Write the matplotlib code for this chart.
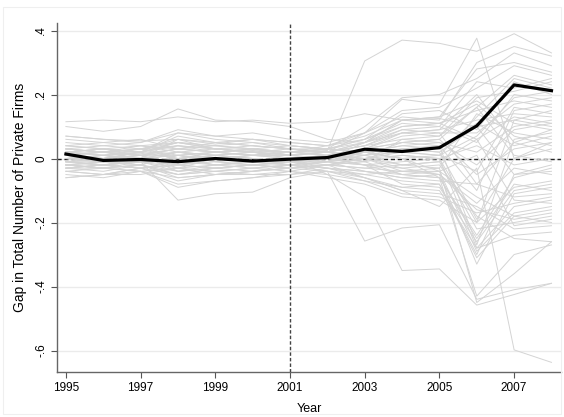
import numpy as np
import matplotlib
matplotlib.use("Agg")
import matplotlib.pyplot as plt
from matplotlib.patches import Rectangle

plt.rcParams['font.family'] = ['Liberation Sans', 'DejaVu Sans']

years = list(range(1995, 2009))

# gap for the treated unit
treated_gap = [0.014, -0.006, -0.003, -0.010, 0.000, -0.008, -0.002, 0.003,
               0.029, 0.022, 0.034, 0.102, 0.230, 0.212]

# placebo gaps, one row per control unit
placebo_gaps = [
    [0.115, 0.12, 0.115, 0.13, 0.115, 0.12, 0.11, 0.115, 0.14, 0.12, 0.125, 0.10, 0.12, 0.10],
    [0.10, 0.085, 0.10, 0.155, 0.12, 0.115, 0.10, 0.06, 0.05, 0.12, 0.11, 0.15, 0.18, 0.16],
    [0.02, 0.01, 0.015, 0.03, 0.02, 0.025, 0.02, 0.025, 0.305, 0.37, 0.36, 0.335, 0.39, 0.33],
    [0.07, 0.06, 0.055, 0.06, 0.045, 0.06, 0.05, 0.04, 0.08, 0.185, 0.17, 0.376, 0.0, 0.05],
    [-0.02, -0.03, -0.01, 0.0, -0.02, -0.01, -0.01, -0.03, -0.06, -0.10, -0.15, -0.03, -0.598, -0.637],
    [0.0, 0.01, -0.01, -0.02, 0.0, -0.01, 0.0, -0.05, -0.12, -0.35, -0.345, -0.458, -0.425, -0.39],
    [-0.01, 0.0, 0.01, -0.02, -0.01, 0.0, -0.02, -0.04, -0.258, -0.217, -0.207, -0.44, -0.41, -0.39],
    [0.03, 0.02, 0.03, 0.05, 0.04, 0.03, 0.02, 0.03, 0.10, 0.19, 0.20, 0.25, 0.33, 0.29],
    [-0.03, -0.02, -0.03, -0.05, -0.04, -0.03, -0.02, 0.0, 0.05, 0.12, 0.13, 0.28, 0.30, 0.27],
    [0.01, 0.0, 0.02, 0.04, 0.03, 0.02, 0.01, 0.02, 0.04, 0.09, 0.10, 0.24, 0.22, 0.25],
    [-0.04, -0.05, -0.03, -0.02, -0.03, -0.04, -0.03, -0.02, -0.01, 0.06, 0.07, 0.16, 0.26, 0.23],
    [0.04, 0.03, 0.02, 0.07, 0.05, 0.06, 0.04, 0.03, 0.06, 0.11, 0.10, 0.05, 0.20, 0.18],
    [-0.02, -0.03, -0.02, -0.06, -0.05, -0.04, -0.03, -0.01, 0.02, 0.03, 0.04, -0.10, 0.15, 0.17],
    [0.0, -0.01, 0.0, 0.02, 0.01, 0.0, -0.01, 0.0, 0.03, 0.08, 0.09, 0.12, 0.14, 0.13],
    [0.05, 0.04, 0.05, 0.09, 0.07, 0.06, 0.05, 0.04, 0.07, 0.12, 0.13, 0.18, 0.11, 0.09],
    [-0.05, -0.06, -0.04, -0.08, -0.07, -0.06, -0.05, -0.03, -0.04, -0.05, -0.06, -0.25, -0.08, -0.10],
    [0.02, 0.03, 0.01, -0.03, 0.0, 0.01, 0.02, 0.01, 0.0, 0.01, 0.0, -0.28, -0.15, -0.13],
    [-0.01, -0.02, -0.03, -0.07, -0.05, -0.04, -0.02, -0.03, -0.05, -0.07, -0.08, -0.30, -0.05, -0.02],
    [0.03, 0.02, 0.04, 0.02, 0.03, 0.04, 0.03, 0.02, 0.01, 0.05, 0.04, -0.27, 0.06, 0.08],
    [-0.03, -0.04, -0.02, 0.01, -0.01, -0.02, -0.03, -0.02, -0.03, -0.02, -0.01, -0.22, -0.20, -0.18],
    [0.01, 0.02, 0.0, -0.01, 0.01, 0.02, 0.01, 0.0, -0.02, -0.03, -0.02, -0.18, -0.25, -0.26],
    [-0.02, -0.01, -0.02, -0.04, -0.03, -0.02, -0.01, -0.02, -0.06, -0.10, -0.11, -0.15, -0.22, -0.21],
    [0.0, 0.01, 0.02, 0.05, 0.03, 0.02, 0.0, 0.01, 0.02, 0.0, -0.04, -0.12, -0.18, -0.16],
    [0.02, 0.01, 0.0, -0.02, 0.0, 0.01, 0.0, -0.01, -0.04, -0.06, -0.07, -0.08, -0.12, -0.11],
    [-0.04, -0.03, -0.04, -0.06, -0.05, -0.05, -0.04, -0.06, -0.08, -0.12, -0.13, -0.20, -0.09, -0.07],
    [0.06, 0.05, 0.04, 0.03, 0.05, 0.04, 0.03, 0.02, 0.05, 0.08, 0.09, 0.20, 0.05, 0.02],
    [-0.06, -0.05, -0.04, -0.03, -0.05, -0.04, -0.03, -0.02, 0.0, 0.03, 0.02, 0.10, -0.05, -0.04],
    [0.01, 0.0, -0.01, 0.0, 0.02, 0.01, 0.0, 0.01, 0.03, 0.05, 0.06, -0.05, 0.03, 0.05],
    [-0.01, 0.0, 0.01, 0.03, 0.02, 0.01, 0.02, 0.02, 0.04, 0.06, 0.05, 0.02, 0.10, 0.12],
    [0.03, 0.04, 0.03, 0.06, 0.05, 0.04, 0.03, 0.02, 0.01, -0.02, -0.03, 0.14, 0.08, 0.06],
    [-0.02, -0.03, -0.04, -0.09, -0.07, -0.06, -0.04, -0.02, -0.03, -0.04, -0.04, -0.29, -0.17, -0.15],
    [0.0, -0.01, -0.01, 0.0, -0.02, -0.01, -0.02, -0.01, 0.01, 0.02, 0.01, 0.07, 0.19, 0.21],
    [0.02, 0.02, 0.03, 0.04, 0.03, 0.02, 0.03, 0.03, 0.06, 0.14, 0.15, 0.09, 0.24, 0.20],
    [-0.03, -0.02, -0.01, 0.02, 0.0, -0.01, -0.02, -0.01, -0.02, -0.08, -0.09, -0.26, -0.10, -0.08],
    [0.04, 0.05, 0.06, 0.03, 0.04, 0.05, 0.04, 0.03, 0.02, 0.0, 0.01, -0.04, 0.16, 0.14],
    [-0.01, -0.02, 0.0, 0.06, 0.03, 0.02, 0.0, -0.01, -0.02, -0.01, 0.0, 0.04, -0.02, 0.0],
    [0.01, 0.02, 0.01, -0.04, -0.02, -0.01, 0.0, 0.01, 0.0, -0.03, -0.05, -0.14, -0.03, -0.05],
    [-0.02, -0.01, -0.02, -0.05, -0.04, -0.03, -0.02, -0.01, 0.02, 0.04, 0.03, 0.11, 0.04, 0.07],
    [0.02, 0.03, 0.02, 0.08, 0.06, 0.05, 0.03, 0.02, 0.08, 0.15, 0.16, 0.22, 0.29, 0.26],
    [-0.01, -0.02, -0.01, -0.13, -0.11, -0.105, -0.06, -0.04, -0.07, -0.09, -0.10, -0.28, -0.24, -0.23],
    [0.03, 0.02, 0.01, 0.01, 0.02, 0.03, 0.02, 0.04, 0.06, 0.10, 0.11, 0.17, 0.07, 0.04],
    [-0.04, -0.05, -0.03, -0.01, -0.02, -0.03, -0.04, -0.05, -0.07, -0.11, -0.12, -0.17, -0.14, -0.12],
    [0.0, -0.01, 0.0, 0.01, 0.0, -0.01, 0.0, 0.0, 0.01, 0.03, 0.02, -0.19, 0.0, 0.03],
    [0.01, 0.0, 0.02, 0.04, 0.02, 0.03, 0.01, 0.02, -0.01, -0.05, -0.04, 0.01, -0.21, -0.19],
    [-0.03, -0.02, -0.01, -0.04, -0.03, -0.02, -0.03, -0.02, 0.0, 0.02, 0.01, 0.13, 0.25, 0.22],
    [0.07, 0.06, 0.05, 0.08, 0.07, 0.08, 0.06, 0.05, 0.08, 0.13, 0.12, 0.30, 0.35, 0.32],
    [-0.06, -0.05, -0.05, -0.03, -0.04, -0.05, -0.05, -0.04, -0.05, -0.04, -0.05, -0.33, -0.11, -0.09],
    [0.0, 0.0, 0.01, 0.02, 0.01, 0.0, -0.01, 0.0, 0.02, 0.0, -0.06, -0.43, -0.30, -0.27],
    [0.02, 0.01, 0.03, 0.0, 0.01, 0.02, 0.02, 0.01, 0.0, -0.04, -0.03, -0.45, -0.36, -0.26],
    [-0.02, -0.03, -0.02, 0.01, -0.01, -0.02, -0.01, 0.0, -0.01, 0.01, 0.0, -0.20, 0.12, 0.15],
    [0.01, 0.0, 0.01, 0.03, 0.02, 0.01, 0.01, 0.02, 0.05, 0.10, 0.11, 0.06, 0.13, 0.11],
    [-0.01, -0.01, 0.0, 0.02, 0.01, 0.0, -0.01, 0.01, 0.03, 0.07, 0.08, -0.08, 0.05, 0.09],
    [0.02, 0.03, 0.02, 0.0, 0.01, 0.02, 0.01, 0.0, -0.02, -0.05, -0.06, -0.24, -0.06, -0.03],
    [-0.03, -0.03, -0.02, -0.05, -0.03, -0.02, -0.02, -0.03, -0.04, -0.06, -0.05, -0.16, -0.19, -0.17],
    [0.0, 0.01, 0.0, -0.01, 0.0, 0.01, 0.01, 0.02, 0.04, 0.08, 0.07, 0.19, 0.21, 0.24],
    [0.04, 0.03, 0.04, 0.05, 0.04, 0.03, 0.04, 0.03, 0.05, 0.09, 0.08, 0.08, 0.17, 0.19],
    [-0.02, -0.02, -0.03, -0.02, -0.03, -0.02, -0.03, -0.04, -0.06, -0.09, -0.08, -0.31, -0.18, -0.20],
    [0.01, 0.02, 0.02, 0.05, 0.03, 0.03, 0.02, 0.03, 0.02, 0.04, 0.05, -0.02, 0.09, 0.11],
    [-0.01, -0.02, -0.01, -0.03, -0.02, -0.02, -0.01, -0.01, 0.0, -0.02, -0.01, 0.06, -0.13, -0.14],
    [0.03, 0.02, 0.03, 0.01, 0.02, 0.01, 0.02, 0.01, 0.03, 0.05, 0.06, 0.16, 0.01, -0.01],
]

yticks = [-0.6, -0.4, -0.2, 0.0, 0.2, 0.4]
ytick_labels = ["-.6", "-.4", "-.2", "0", ".2", ".4"]
xticks = [1995, 1997, 1999, 2001, 2003, 2005, 2007]

fig = plt.figure(figsize=(5.64, 4.17), dpi=100)
ax = fig.add_axes([0.101, 0.108, 0.894, 0.838])

# faint outer frame
fig.patches.append(Rectangle((0.005, 0.007), 0.99, 0.976, transform=fig.transFigure,
                             fill=False, edgecolor="#efefef", linewidth=0.8))

for yv in yticks:
    ax.axhline(yv, color="#ebebeb", linewidth=1.0, zorder=0)

ax.axhline(0, color="#222222", linewidth=1.0, linestyle=(0, (3, 2)), zorder=1)

for gap in placebo_gaps:
    ax.plot(years, gap, color="#d4d4d4", linewidth=0.7, zorder=2)

ax.axvline(2001, color="#444444", linewidth=1.0, linestyle=(0, (2.5, 1.5)), zorder=3)

ax.plot(years, treated_gap, color="black", linewidth=2.3, zorder=4,
        solid_joinstyle="round")

ax.set_xlim(1994.76, 2008.26)
ax.set_ylim(-0.667, 0.425)
ax.set_xticks(xticks)
ax.set_yticks(yticks)
ax.set_yticklabels(ytick_labels, rotation=90, va="center")
ax.tick_params(axis="both", labelsize=8.5, color="#555555", length=4, width=0.8)
ax.tick_params(axis="y", pad=3)

for side in ["top", "right"]:
    ax.spines[side].set_visible(False)
for side in ["left", "bottom"]:
    ax.spines[side].set_color("#666666")
    ax.spines[side].set_linewidth(1.0)

ax.set_ylabel("Gap in Total Number of Private Firms", fontsize=10, labelpad=6)
ax.set_xlabel("Year", fontsize=9, labelpad=6)

fig.savefig("out.png", dpi=100)
